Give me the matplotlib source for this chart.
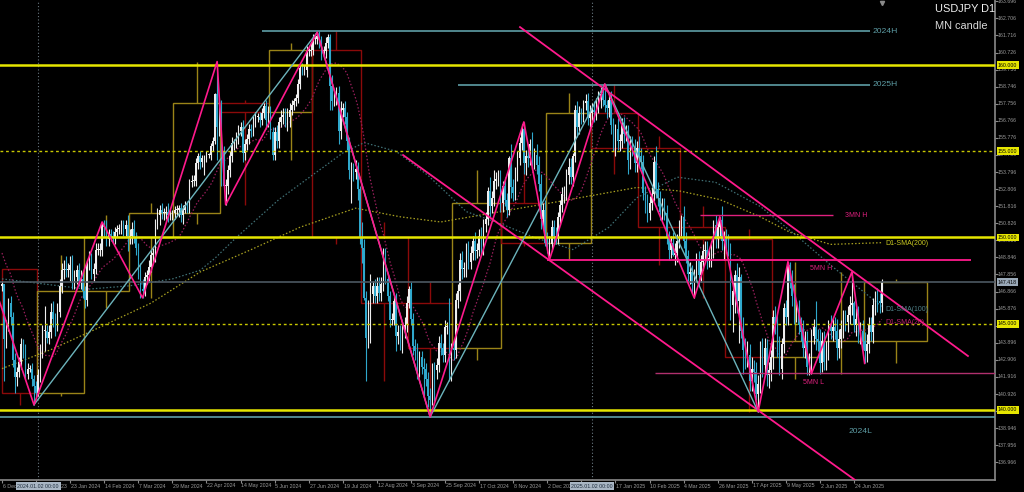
import numpy as np
import pandas as pd
import matplotlib
matplotlib.use('Agg')
import matplotlib.pyplot as plt
from matplotlib.patches import Rectangle

plt.rcParams['font.family'] = ['Liberation Sans', 'DejaVu Sans']

## USDJPY D1 closes (one list per month)
pre_closes = [151.3, 151.5, 151.7, 150.4, 151.4, 150.7, 149.6, 148.4, 148.4, 149.5,
              149.6, 149.4, 148.7, 147.5, 147.2, 148.2, 146.8, 147.2, 147.2]
c_2023_12 = [147.3, 144.1, 144.9, 146.2, 145.4, 142.9, 141.9, 142.2, 142.8, 143.8, 143.5, 142.1,
             142.4, 142.4, 141.8, 141.4, 141.0]
c_2024_01 = [142.0, 143.3, 144.6, 144.6, 144.2, 144.5, 145.7, 145.3, 144.9, 145.7, 147.2, 148.1,
             148.2, 148.1, 148.1, 148.4, 147.5, 147.7, 148.1, 147.5, 147.6, 146.9]
c_2024_02 = [146.4, 148.4, 148.7, 147.9, 148.2, 149.3, 149.3, 149.3, 150.7, 150.6, 149.9, 150.2,
             150.1, 150.0, 150.3, 150.5, 150.5, 150.7, 150.5, 150.7, 150.0]
c_2024_03 = [150.1, 150.5, 150.0, 149.4, 148.0, 147.0, 146.9, 147.7, 147.8, 148.3, 149.0, 149.1,
             150.9, 151.3, 151.6, 151.4, 151.4, 151.5, 151.3, 151.3, 151.4]
c_2024_04 = [151.6, 151.6, 151.7, 151.3, 151.6, 151.9, 151.8, 153.2, 153.3, 153.3, 154.3, 154.7,
             154.4, 154.6, 154.6, 154.8, 154.8, 155.3, 155.6, 158.3, 156.4, 157.8]
c_2024_05 = [155.0, 153.0, 153.0, 153.9, 154.7, 155.5, 155.5, 155.8, 156.2, 156.4, 154.9, 155.4,
             155.7, 156.3, 156.2, 156.8, 157.0, 157.0, 156.8, 157.2, 157.6, 156.8, 157.3]
c_2024_06 = [156.1, 154.8, 156.1, 155.6, 156.7, 157.0, 157.1, 156.7, 157.0, 157.4, 157.7, 157.9,
             158.1, 158.9, 159.8, 159.7, 159.7, 160.8, 160.8, 160.9]
c_2024_07 = [161.5, 161.5, 161.7, 161.3, 160.8, 160.8, 161.3, 161.6, 158.8, 157.9, 158.1, 158.4,
             156.2, 157.4, 157.5, 157.0, 155.6, 153.9, 153.9, 153.8, 154.0, 152.8, 150.0]
c_2024_08 = [149.4, 146.5, 144.2, 144.3, 146.7, 147.2, 146.6, 147.2, 146.8, 147.3, 149.3, 147.6,
             146.6, 145.2, 145.2, 146.3, 144.3, 144.5, 143.9, 144.6, 144.9, 146.2]
c_2024_09 = [147.0, 145.3, 143.7, 143.4, 142.3, 143.1, 142.5, 142.4, 141.8, 140.8, 140.6, 142.4,
             142.3, 142.6, 143.9, 143.6, 143.2, 144.8, 144.8, 142.2, 143.6]
c_2024_10 = [143.5, 146.4, 146.9, 148.7, 148.2, 148.2, 149.3, 148.6, 149.1, 149.8, 149.2, 149.3,
             150.1, 149.5, 150.8, 151.1, 152.7, 151.8, 152.3, 153.3, 153.4, 153.4, 152.0]
c_2024_11 = [153.0, 152.2, 151.6, 154.6, 152.9, 152.6, 153.7, 154.6, 155.5, 156.3, 154.3, 154.7,
             154.6, 155.4, 154.5, 154.8, 154.2, 153.1, 151.1, 151.6, 149.7]
c_2024_12 = [149.6, 149.6, 150.6, 150.1, 150.0, 151.2, 151.9, 152.5, 152.6, 153.6, 154.1, 153.5,
             154.7, 157.4, 156.4, 157.2, 157.1, 157.8, 157.9, 156.9, 157.2]
c_2025_01 = [157.4, 157.3, 157.7, 158.1, 158.3, 158.0, 157.7, 157.5, 158.0, 156.5, 155.2, 156.3,
             155.6, 155.6, 156.5, 156.0, 156.0, 154.5, 155.5, 155.2, 154.3, 155.2]
c_2025_02 = [154.7, 154.4, 152.6, 152.0, 151.4, 152.0, 152.5, 154.4, 152.8, 152.3, 151.5, 151.9,
             151.4, 150.0, 149.3, 149.7, 149.0, 149.1, 149.8, 150.6]
c_2025_03 = [151.2, 149.8, 148.9, 147.9, 148.0, 147.3, 147.8, 148.7, 147.8, 148.6, 149.2, 149.3,
             148.7, 148.8, 149.3, 150.7, 149.9, 150.6, 151.0, 149.8, 149.9]
c_2025_04 = [149.6, 149.4, 146.1, 146.9, 147.8, 146.3, 147.7, 144.6, 143.5, 143.1, 143.2, 141.7,
             142.4, 142.2, 140.9, 141.5, 143.4, 142.6, 143.6, 142.0, 142.3, 143.1]
c_2025_05 = [145.4, 144.9, 143.7, 142.4, 143.8, 145.9, 145.4, 148.4, 147.5, 146.6, 145.7, 145.7,
             144.9, 144.5, 143.6, 144.0, 142.5, 142.8, 144.3, 144.8, 144.1, 144.0]
c_2025_06 = [142.7, 144.0, 142.8, 143.5, 144.9, 144.6, 144.8, 144.6, 143.6, 144.1, 144.7, 145.3,
             145.1, 145.5, 146.1, 146.2, 144.9, 145.3, 144.4, 144.6, 144.0]
c_2025_07 = [143.4, 143.8, 144.9, 144.5, 146.1, 146.6, 146.3, 146.2, 147.4]

## wicks beyond the body, tenths of a yen, one base-36 char per day
wick_up = ["20334343343332323", "453e345635445745643454", "335434442343333233336",
           "445335633433243433532", "23233222333232221221j3", "23433323334333333233243",
           "33343444543223233324", "32234332264345343254542", "954lc34554113343544554",
           "2434533534534445343h3", "54445445435445342846455", "354185443344537465646",
           "654453344455235432455", "4544459345436445554454", "75445443944445446644",
           "165464445445555364285", "6635376287867565686554", "46664352267675766545f6",
           "756536567655555i16756", "565543552"]
wick_dn = ["3o5354953453324b3", "243c343563345446554354", "543343344644334333448",
           "453445434434546343433", "33445244333343a22332j5", "k1b54343435433434343354",
           "43344343563333333433", "33335443e534854455j5464", "91p6454455433433954644",
           "3455544h46a3i54444455", "65566554445445554645545", "544365444467546554662",
           "594544545454536454445", "4655644655255645485555", "64465444555544651654",
           "54466584645554555555b", "559gd7o4e766663a576676", "7564655546765556557566",
           "655565657655565646565", "765566665"]

## zigzag pivots (bar index, H/L)
pink_piv = [(-15, 'C'), (15, 'L'), (47, 'H'), (66, 'L'), (101, 'H'), (105, 'L'), (148, 'H'),
            (201, 'L'), (245, 'H'), (257, 'L'), (283, 'H'), (325, 'L'), (337, 'H'), (355, 'L'),
            (369, 'H'), (380, 'L'), (399, 'H'), (405, 'L')]
cyan_piv = [(15, 'L'), (148, 'H'), (201, 'L'), (283, 'H'), (355, 'L')]

## moving averages
sma200_idx = [0, 23, 46, 70, 93, 117, 140, 166, 187, 206, 234, 262, 298, 318, 337, 356, 370, 389, 413]
sma200_val = [142.4, 143.5, 144.8, 146.2, 148.0, 149.3, 150.6, 151.7, 151.2, 150.9, 151.5, 152.1,
              152.9, 152.7, 152.2, 151.2, 150.3, 149.6, 149.7]
sma100_idx = [0, 20, 40, 60, 80, 93, 100, 110, 120, 130, 140, 150, 160, 170, 185, 200, 218, 234,
              250, 268, 285, 298, 317, 335, 356, 374, 390, 413]
sma100_val = [147.6, 147.3, 147.0, 147.2, 147.6, 148.1, 148.8, 150.0, 151.1, 152.2, 153.1, 154.0,
              154.9, 155.5, 155.0, 153.6, 151.5, 150.8, 150.0, 149.3, 150.6, 152.3, 153.5, 153.2,
              151.8, 150.0, 148.3, 146.0]

## levels and trend lines
yellow_solid = [160.0, 150.0, 140.0]
yellow_dot = [155.0, 145.0]
last_price = 147.418
chan_upper = ([243.2, 453.5], [162.2, 143.13])
chan_lower = ([188.3, 400.5], [154.78, 135.94])

# ---------------- build data ----------------
months = [c_2023_12, c_2024_01, c_2024_02, c_2024_03, c_2024_04, c_2024_05, c_2024_06,
          c_2024_07, c_2024_08, c_2024_09, c_2024_10, c_2024_11, c_2024_12, c_2025_01,
          c_2025_02, c_2025_03, c_2025_04, c_2025_05, c_2025_06, c_2025_07]
closes = pre_closes + sum(months, [])
dates = pd.bdate_range('2023-11-09', '2025-07-11')
dates = dates[~dates.strftime('%m-%d').isin(['12-25', '01-01'])]
assert len(dates) == len(closes), (len(dates), len(closes))
n_pre = len(pre_closes)
idx = np.arange(len(closes)) - n_pre

close = np.array(closes)
open_ = np.r_[close[0], close[:-1]]
up = np.r_[np.zeros(n_pre), [int(ch, 36) / 10 for ch in ''.join(wick_up)]]
dn = np.r_[np.zeros(n_pre), [int(ch, 36) / 10 for ch in ''.join(wick_dn)]]
high = np.maximum(open_, close) + up
low = np.minimum(open_, close) - dn

df = pd.DataFrame({'o': open_, 'h': high, 'l': low, 'c': close, 'i': idx}, index=dates)
mon = df.groupby(df.index.to_period('M')).agg(o=('o', 'first'), h=('h', 'max'), l=('l', 'min'),
                                              c=('c', 'last'), i0=('i', 'min'), i1=('i', 'max'))
mon = mon[mon.index >= pd.Period('2023-12', 'M')]

sma20 = pd.Series(close).rolling(20).mean().values

# ---------------- figure ----------------
fig = plt.figure(figsize=(10.24, 4.92), dpi=100, facecolor='black')
ax = fig.add_axes([0, 12 / 492, 995 / 1024, 480 / 492], facecolor='black')
ax.set_xlim(-0.94, 466.2)
ax.set_ylim(135.94, 163.77)
for s in ['top', 'left']:
    ax.spines[s].set_visible(False)
for s in ['right', 'bottom']:
    ax.spines[s].set_color('#8a8a8a')
    ax.spines[s].set_linewidth(1.2)

# monthly candles (MN candle)
last_per = mon.index[-1]
for per, r in mon.iterrows():
    x0 = max(r.i0 - 0.5, 0)
    x1 = r.i1 + 0.5 if per != last_per else x0 + 30
    col = '#9a8418' if r.c >= r.o else '#8b0a0a'
    ax.add_patch(Rectangle((x0, min(r.o, r.c)), x1 - x0, abs(r.c - r.o), fill=False,
                           ec=col, lw=1.0, zorder=1))
    xm = (x0 + x1) / 2
    ax.vlines(xm, max(r.o, r.c), r.h, colors=col, lw=1.0, zorder=1)
    ax.vlines(xm, r.l, min(r.o, r.c), colors=col, lw=1.0, zorder=1)

# period separators
for d in ['2024-01-02', '2025-01-02']:
    ix = idx[dates.get_loc(pd.Timestamp(d))]
    ax.axvline(ix, color='#6a7880', lw=0.8, ls=(0, (1, 2)), zorder=1)
    ax.text(ix, -0.0125, pd.Timestamp(d).strftime('%Y.%m.%d 00:00'), transform=ax.get_xaxis_transform(),
            ha='center', va='center', fontsize=3.8, color='#1c2c3c', zorder=10, clip_on=False,
            bbox=dict(boxstyle='square,pad=0.3', fc='#a9b6c4', ec='none'))

# moving averages
vis = idx >= 0
ax.plot(sma200_idx, sma200_val, color='#a8a020', lw=0.9, ls=(0, (1.2, 1.6)), zorder=2)
ax.plot(sma100_idx, sma100_val, color='#3f6f74', lw=0.9, ls=(0, (1.2, 1.6)), zorder=2)
ax.plot(idx[vis], sma20[vis], color='#9a1f5c', lw=0.9, ls=(0, (1.2, 1.6)), zorder=2)

# daily candles
bull = close >= open_
colors = np.where(bull, '#eeeeee', '#2fa8cc')
ax.vlines(idx[vis], low[vis], high[vis], colors=colors[vis], lw=0.8, zorder=3)
body = np.maximum(np.abs(close - open_), 0.05)
ax.bar(idx[vis], body[vis], bottom=np.minimum(open_, close)[vis], width=0.7,
       color=colors[vis], lw=0, zorder=3)

# horizontal levels
for p in yellow_solid:
    ax.axhline(p, color='#e6e600', lw=1.8, zorder=4)
for p in yellow_dot:
    ax.axhline(p, color='#c8c800', lw=1.0, ls=(0, (2, 2)), zorder=4)
ax.axhline(last_price, color='#4c5862', lw=1.2, zorder=4)
ax.axhline(139.58, color='#5e9ea6', lw=1.2, zorder=4)
ax.hlines(161.95, 122, 407.5, color='#5e9ea6', lw=1.2, zorder=4)
ax.hlines(158.87, 214, 407.5, color='#5e9ea6', lw=1.2, zorder=4)
ax.hlines(151.3, 327.7, 390, color='#e0207f', lw=1.0, zorder=4)
ax.hlines(148.70, 256, 455, color='#ff1a8c', lw=1.3, zorder=4)
ax.hlines(142.14, 306.6, 466.2, color='#b0306e', lw=1.0, zorder=4)

# channel lines
ax.plot(*chan_upper, color='#ff1a8c', lw=1.3, zorder=4)
ax.plot(*chan_lower, color='#ff1a8c', lw=1.3, zorder=4)

# zigzags
def piv_xy(piv):
    xs, ys = [], []
    for i, k in piv:
        j = i + n_pre
        xs.append(i)
        ys.append(high[j] if k == 'H' else low[j] if k == 'L' else close[j])
    return xs, ys

ax.plot(*piv_xy(cyan_piv), color='#6cb4bc', lw=1.0, zorder=4)
ax.plot(*piv_xy(pink_piv), color='#ff1a8c', lw=1.2, zorder=5)

# labels on the chart
ax.text(408.5, 161.95, '2024H', color='#5e9ea6', fontsize=6.1, va='center', zorder=6)
ax.text(408.5, 158.87, '2025H', color='#5e9ea6', fontsize=6.1, va='center', zorder=6)
ax.text(397.2, 138.78, '2024L', color='#5e9ea6', fontsize=6.1, va='center', zorder=6)
ax.text(395.8, 151.25, '3MN H', color='#e0207f', fontsize=5, va='center', zorder=6)
ax.text(379.3, 148.23, '5MN H', color='#e0207f', fontsize=5, va='center', zorder=6)
ax.text(376.0, 141.62, '5MN L', color='#e0207f', fontsize=5, va='center', zorder=6)
ax.text(414.6, 149.68, 'D1-SMA(200)', color='#c8c820', fontsize=5, va='center', zorder=6)
ax.text(414.6, 145.80, 'D1-SMA(100)', color='#4f8088', fontsize=5, va='center', zorder=6)
ax.text(414.6, 145.10, 'D1-SMA(20)', color='#c0206e', fontsize=5, va='center', zorder=6)
ax.plot([413], [163.6], marker='v', ms=3, color='#8a8a8a', clip_on=False, zorder=6)

# right price scale
price_ticks = [round(163.696 - 0.99 * k, 3) for k in range(28)]
ax.yaxis.tick_right()
ax.set_yticks(price_ticks)
ax.set_yticklabels([])
ax.tick_params(axis='y', length=2.0, color='#8a8a8a', width=0.8)
ytr = ax.get_yaxis_transform()
for p in price_ticks:
    ax.text(1.003, p, f'{p:.3f}', transform=ytr, fontsize=3.8, color='#9a9a9a',
            ha='left', va='center', clip_on=False)
for p in yellow_solid + yellow_dot:
    ax.text(1.003, p, f'{p:.3f}', transform=ytr, fontsize=3.8, color='black', ha='left',
            va='center', clip_on=False, zorder=10,
            bbox=dict(boxstyle='square,pad=0.25', fc='#e6e600', ec='none'))
ax.text(1.003, last_price, f'{last_price:.3f}', transform=ytr, fontsize=3.8, color='black',
        ha='left', va='center', clip_on=False, zorder=10,
        bbox=dict(boxstyle='square,pad=0.25', fc='#9aa9b8', ec='none'))

# bottom time scale
tick_idx = list(range(0, 401, 16))
ax.set_xticks(tick_idx)
ax.set_xticklabels([])
ax.tick_params(axis='x', length=2.0, color='#8a8a8a', width=0.8)
xtr = ax.get_xaxis_transform()
for t in tick_idx:
    d = dates[t + n_pre]
    ax.text(t + 0.4, -0.0125, f'{d.day} {d.strftime("%b %Y")}', transform=xtr, fontsize=3.8,
            color='#9a9a9a', ha='left', va='center', clip_on=False, zorder=5)

fig.text(935 / 1024, 1 - 9 / 492, 'USDJPY D1', color='#f0f0f0', fontsize=7.9, ha='left', va='center')
fig.text(935 / 1024, 1 - 26 / 492, 'MN candle', color='#d8d8d8', fontsize=7.9, ha='left', va='center')

fig.savefig('out.png', dpi=100, facecolor='black')
